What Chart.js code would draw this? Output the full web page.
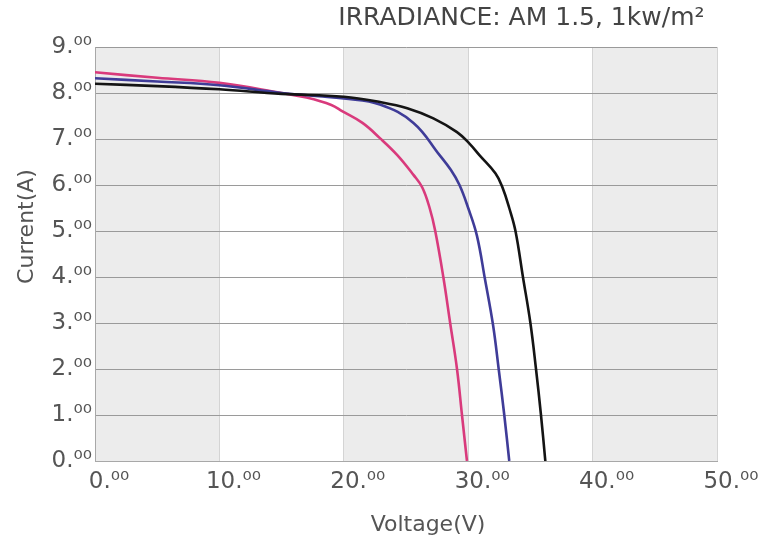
<!DOCTYPE html>
<html>
<head>
<meta charset="utf-8">
<script src="https://cdn.jsdelivr.net/npm/chart.js@4/dist/chart.umd.min.js"></script>
<style>
  html, body { margin: 0; padding: 0; background: #fff; }
  #wrap { width: 765px; height: 542px; }
</style>
</head>
<body>
<div id="wrap"><canvas id="ivChart" width="765" height="542"></canvas></div>
<script>
// Courbes I-V
const voltsPink = [0, 5, 10, 15, 17, 19, 19.9, 21.5, 22.9, 24.3, 25.6, 26.3, 26.9, 27.35, 28.0, 28.55, 29.1, 29.5, 29.9];
const ampsPink  = [8.45, 8.33, 8.22, 8.0, 7.9, 7.74, 7.6, 7.35, 7.02, 6.65, 6.22, 5.95, 5.5, 5.0, 4.0, 3.0, 2.0, 1.0, 0];

const voltsBlue = [0, 5, 10, 15, 18, 20, 22.9, 25.6, 27.7, 28.6, 29.3, 30.0, 30.7, 31.35, 32.0, 32.45, 32.9, 33.3];
const ampsBlue  = [8.32, 8.25, 8.17, 8.0, 7.93, 7.88, 7.75, 7.35, 6.65, 6.33, 6.0, 5.5, 4.9, 3.95, 2.95, 2.0, 1.0, 0];

const voltsBlack = [0, 5, 10, 15, 20, 23, 25.1, 27.2, 29.1, 30.1, 30.9, 32.2, 32.75, 33.3, 33.8, 34.4, 35.0, 35.45, 35.85, 36.2];
const ampsBlack  = [8.2, 8.15, 8.08, 7.98, 7.92, 7.8, 7.67, 7.45, 7.15, 6.9, 6.65, 6.25, 5.95, 5.5, 5.0, 4.0, 3.0, 2.0, 1.0, 0];

// axes
const voltageMin = 0, voltageMax = 50, voltageStep = 10;
const currentMin = 0, currentMax = 9, currentStep = 1;
const shadedBands = [[0, 10], [20, 30], [40, 50]];

function toPoints(xs, ys) {
    return xs.map((x, i) => ({ x: x, y: ys[i] }));
}

// bandes grises en fond
const bandsPlugin = {
    id: 'bands',
    beforeDraw(chart) {
        const { ctx, chartArea, scales } = chart;
        ctx.save();
        ctx.fillStyle = '#ececec';
        shadedBands.forEach(b => {
            const x1 = scales.x.getPixelForValue(b[0]);
            const x2 = scales.x.getPixelForValue(b[1]);
            ctx.fillRect(x1, chartArea.top, x2 - x1, chartArea.bottom - chartArea.top);
        });
        ctx.restore();
    }
};

const fontFamily = '"DejaVu Sans", Verdana, sans-serif';
const sup = v => v + '.\u2070\u2070';

const ctx = document.getElementById('ivChart').getContext('2d');
new Chart(ctx, {
    type: 'scatter',
    data: {
        datasets: [
            { data: toPoints(voltsBlack, ampsBlack), borderColor: '#141414' },
            { data: toPoints(voltsBlue, ampsBlue), borderColor: '#3f3c98' },
            { data: toPoints(voltsPink, ampsPink), borderColor: '#d93a7c' }
        ].map(d => Object.assign(d, {
            showLine: true,
            borderWidth: 2.6,
            pointRadius: 0,
            tension: 0.4,
            fill: false
        }))
    },
    plugins: [bandsPlugin],
    options: {
        responsive: false,
        animation: false,
        layout: { padding: { left: 0, right: 48, top: 0, bottom: 0 } },
        plugins: {
            legend: { display: false },
            tooltip: { enabled: false },
            title: {
                display: true,
                text: 'IRRADIANCE: AM 1.5, 1kw/m\u00b2\u2002',
                align: 'end',
                color: '#444',
                font: { family: fontFamily, size: 25, weight: 'normal' },
                padding: { top: 3, bottom: 14 }
            }
        },
        scales: {
            x: {
                type: 'linear',
                min: voltageMin,
                max: voltageMax,
                afterFit(scale) { scale.height = 81; },
                ticks: {
                    stepSize: voltageStep,
                    callback: sup,
                    color: '#555',
                    padding: 7,
                    labelOffset: 14,
                    font: { family: fontFamily, size: 23 }
                },
                grid: { color: '#d4d4d4', lineWidth: 1, drawTicks: false },
                border: { color: '#a8a8a8' },
                title: {
                    display: true,
                    // espaces en tête : le titre est décalé comme sur l'original
                    text: '\u2003\u2003Voltage(V)',
                    color: '#555',
                    font: { family: fontFamily, size: 22 },
                    padding: { top: 0, bottom: 4 }
                }
            },
            y: {
                min: currentMin,
                max: currentMax,
                afterFit(scale) { scale.width = 95; },
                ticks: {
                    stepSize: currentStep,
                    callback: sup,
                    color: '#555',
                    padding: 3,
                    font: { family: fontFamily, size: 23 }
                },
                grid: { color: '#9a9a9a', lineWidth: 1, drawTicks: false },
                border: { color: '#a8a8a8' },
                title: {
                    display: true,
                    text: '\u2003\u2003\u2002Current(A)',
                    color: '#555',
                    font: { family: fontFamily, size: 22 },
                    padding: { top: 14, bottom: 0 }
                }
            }
        }
    }
});
</script>
</body>
</html>
